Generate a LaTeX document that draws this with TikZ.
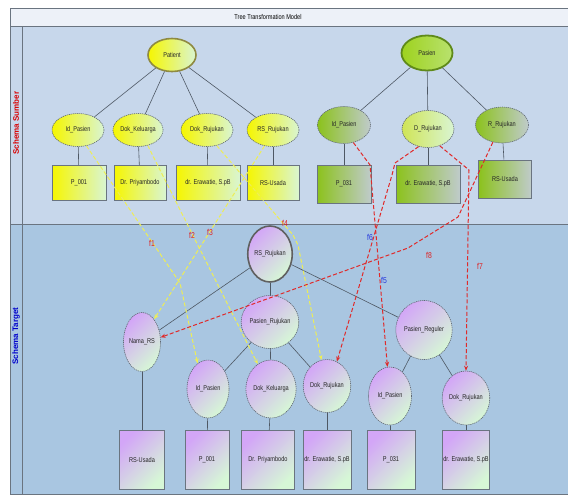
\documentclass[tikz,border=0pt]{standalone}
\usepackage{fontspec}
\setmainfont{Liberation Sans}
\newfontfamily\narrowfont[FakeStretch=0.8]{Liberation Sans}
\usetikzlibrary{shapes.geometric,arrows.meta}

\definecolor{titlebg}{HTML}{EDF1F8}
\definecolor{srcbg}{HTML}{C7D7EB}
\definecolor{tgtbg}{HTML}{A9C6E1}
\definecolor{framec}{HTML}{6A7480}
\definecolor{edgec}{HTML}{4E5864}
\definecolor{yelA}{HTML}{F6F600}
\definecolor{yelB}{HTML}{D9F5D2}
\definecolor{grnA}{HTML}{8CC21C}
\definecolor{grnB}{HTML}{BFCBCB}
\definecolor{grnRoot}{HTML}{9ED21E}
\definecolor{grnRim}{HTML}{5F8A1A}
\definecolor{purA}{HTML}{D3A6F7}
\definecolor{purB}{HTML}{D6F7D6}
\definecolor{mapY}{HTML}{EEEE55}
\definecolor{mapR}{HTML}{E02A2A}
\definecolor{lblR}{HTML}{E01E1E}
\definecolor{lblB}{HTML}{2233DD}

\tikzset{
  txt/.style={font=\narrowfont\fontsize{7}{8}\selectfont, text=black!85, align=center},
  ell/.style={ellipse, inner sep=0pt, txt},
  box/.style={rectangle, inner sep=0pt, txt, draw=framec, line width=0.9pt},
  dashborder/.style={draw=framec!90!black, dash pattern=on 1.2pt off 0.8pt, line width=0.6pt},
  yel/.style={left color=yelA, right color=yelB},
  grn/.style={left color=grnA, right color=grnB},
  pur/.style={top color=purA, bottom color=purB, shading angle=45},
  srcY/.style={ell, yel, dashborder, minimum width=52pt, minimum height=33pt},
  srcG/.style={ell, grn, dashborder, minimum width=53pt, minimum height=37pt},
  tgtE/.style={ell, pur, dashborder, minimum width=42pt, minimum height=57pt},
  boxY/.style={box, yel, minimum height=35pt},
  boxG/.style={box, grn, minimum height=38pt},
  boxP/.style={box, pur, minimum height=59pt},
  edge/.style={draw=edgec, line width=0.6pt},
  mapy/.style={draw=mapY, line width=1pt, dash pattern=on 4pt off 2.2pt,
    -{Stealth[length=5pt,width=4pt]}},
  mapr/.style={draw=mapR, line width=1pt, dash pattern=on 4pt off 2.2pt,
    -{Stealth[length=5pt,width=4pt]}},
  flbl/.style={font=\narrowfont\fontsize{8.5}{9}\selectfont, inner sep=0pt},
  lane/.style={rotate=90, font=\bfseries\fontsize{8}{9}\selectfont, inner sep=0pt},
}

\begin{document}
\begin{tikzpicture}[x=1pt,y=-1pt]
\useasboundingbox (0,0) rectangle (568,496);
\fill[white] (0,0) rectangle (568,496);

% swimlane frame
\fill[titlebg] (10,8) rectangle (570,26);
\fill[srcbg] (10,26) rectangle (570,224);
\fill[tgtbg] (10,224) rectangle (570,494);
\draw[framec, line width=0.8pt] (10,8) rectangle (570,494);
\draw[framec, line width=0.8pt] (10,26) -- (570,26);
\draw[framec, line width=0.8pt] (10,224) -- (570,224);
\draw[framec, line width=0.8pt] (22,26) -- (22,494);
\node[font=\narrowfont\fontsize{7}{8}\selectfont] (title) at (268,17) {Tree Transformation Model};
\node[lane, text=red!85!black] (laneS) at (16,123) {Schema Sumber};
\node[lane, text=blue!80!black] (laneT) at (16,336) {Schema Target};

% source tree: Patient
\node[ell, yel, draw=olive!55!gray, line width=1.6pt, minimum width=48pt, minimum height=33pt] (pat) at (172,55) {Patient};
\node[srcY] (yId) at (78,130) {Id\_Pasien};
\node[srcY, minimum width=48pt] (yDK) at (138,130) {Dok\_Keluarga};
\node[srcY] (yDR) at (207,130) {Dok\_Rujukan};
\node[srcY] (yRS) at (273,130) {RS\_Rujukan};
\node[boxY, minimum width=54pt] (yb1) at (79,183) {P\_001};
\node[boxY, minimum width=52pt] (yb2) at (140,183) {Dr. Priyambodo};
\node[boxY, minimum width=64pt] (yb3) at (208,183) {dr. Erawatie, S.pB};
\node[boxY, minimum width=52pt] (yb4) at (273,183) {RS-Usada};
\foreach \c in {yId,yDK,yDR,yRS} \draw[edge] (pat) -- (\c);
\draw[edge] (yId) -- (yb1);
\draw[edge] (yDK) -- (yb2);
\draw[edge] (yDR) -- (yb3);
\draw[edge] (yRS) -- (yb4);

% source tree: Pasien
\node[ell, left color=grnRoot, right color=grnRoot!55!yelB, draw=grnRim, line width=1.8pt, minimum width=51pt, minimum height=35pt] (pas) at (427,53) {Pasien};
\node[srcG] (gId) at (344,125) {Id\_Pasien};
\node[srcG, minimum width=52pt, left color=grnA!55!yelA!70!white, right color=yelB] (gDR) at (428,129) {D\_Rujukan};
\node[srcG, minimum height=36pt] (gRR) at (502,125) {R\_Rujukan};
\node[boxG, minimum width=54pt] (gb1) at (344,184) {P\_031};
\node[boxG, minimum width=64pt] (gb2) at (428,184) {dr. Erawatie, S.pB};
\node[boxG, minimum width=53pt] (gb3) at (505,179) {RS-Usada};
\foreach \c in {gId,gDR,gRR} \draw[edge] (pas) -- (\c);
\draw[edge] (gId) -- (gb1);
\draw[edge] (gDR) -- (gb2);
\draw[edge] (gRR) -- (gb3);

% target tree
\node[ell, pur, draw=gray!75!black, line width=1.6pt, minimum width=35pt, minimum height=56pt] (tRS) at (270,254) {RS\_Rujukan};
\node[tgtE, minimum height=53pt] (tPR) at (270,322) {Pasien\_Rujukan};
\node[tgtE, minimum width=37pt, minimum height=59pt] (tNama) at (142,342) {Nama\_RS};
\node[tgtE, minimum height=59pt] (tPG) at (424,330) {Pasien\_Reguler};
\node[tgtE, minimum height=58pt] (tIdL) at (208,389) {Id\_Pasien};
\node[tgtE, minimum width=46pt, minimum height=58pt] (tDK) at (271,389) {Dok\_Keluarga};
\node[tgtE, minimum height=53pt] (tDRm) at (327,386) {Dok\_Rujukan};
\node[tgtE, minimum width=43pt, minimum height=58pt] (tIdR) at (390,396) {Id\_Pasien};
\node[tgtE, minimum height=54pt] (tDRr) at (466,398) {Dok\_Rujukan};
\node[boxP, minimum width=45pt] (pb1) at (142,460) {RS-Usada};
\node[boxP, minimum width=44pt] (pb2) at (207,460) {P\_001};
\node[boxP, minimum width=53pt] (pb3) at (268,460) {Dr. Priyambodo};
\node[boxP, minimum width=48pt] (pb4) at (327,460) {dr. Erawatie, S.pB};
\node[boxP, minimum width=48pt] (pb5) at (391,460) {P\_031};
\node[boxP, minimum width=47pt] (pb6) at (466,460) {dr. Erawatie, S.pB};
\draw[edge] (tRS) -- (tNama);
\draw[edge] (tRS) -- (tPR);
\draw[edge] (tRS) -- (tPG);
\draw[edge] (tPR) -- (tIdL);
\draw[edge] (tPR) -- (tDK);
\draw[edge] (tPR) -- (tDRm);
\draw[edge] (tPG) -- (tIdR);
\draw[edge] (tPG) -- (tDRr);
\draw[edge] (tNama) -- (pb1);
\draw[edge] (tIdL) -- (pb2);
\draw[edge] (tDK) -- (pb3);
\draw[edge] (tDRm) -- (pb4);
\draw[edge] (tIdR) -- (pb5);
\draw[edge] (tDRr) -- (pb6);

% mappings f1..f8
\draw[mapy] (yId.-62) -- (180,283) -- (tIdL.112);
\draw[mapy] (yDK.-58) -- (tDK.118);
\draw[mapy] (yRS.-118) -- (tNama.62);
\draw[mapy] (yDR.-58) -- (293,235) -- (298,245) -- (tDRm.102);
\draw[mapr] (gId.-62) -- (370,165) -- (tIdR.95);
\draw[mapr] (gDR.-118) -- (395,163) -- (392,175) -- (tDRm.68);
\draw[mapr] (gDR.-55) -- (469,170) -- (tDRr.90);
\draw[mapr] (gRR.-118) -- (458,217) -- (408,248) -- (tNama.14);

\node[flbl, text=lblR] (f1) at (152,243) {f1};
\node[flbl, text=lblR] (f2) at (192,235) {f2};
\node[flbl, text=lblR] (f3) at (210,232) {f3};
\node[flbl, text=lblR] (f4) at (285,223) {f4};
\node[flbl, text=lblB] (f5) at (384,280) {f5};
\node[flbl, text=lblB] (f6) at (370,237) {f6};
\node[flbl, text=lblR] (f7) at (480,266) {f7};
\node[flbl, text=lblR] (f8) at (429,255) {f8};
\end{tikzpicture}
\end{document}
